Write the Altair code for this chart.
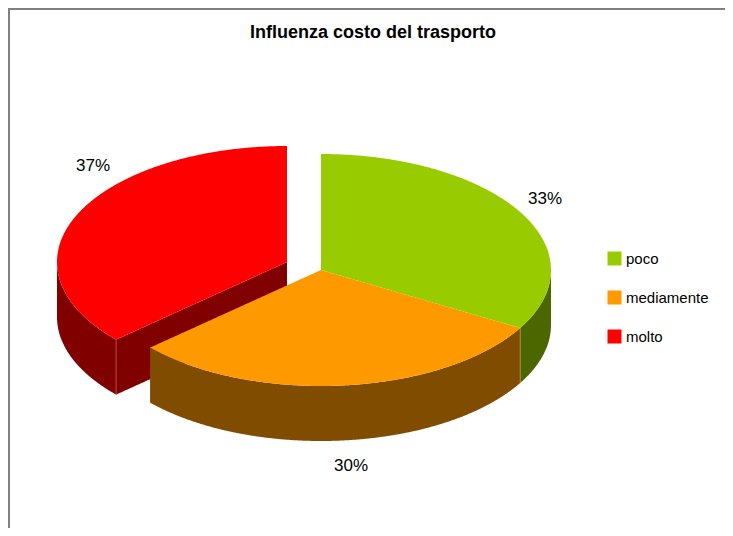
import math
import altair as alt
import pandas as pd

title_text = "Influenza costo del trasporto"
categories = ["poco", "mediamente", "molto"]
counts = [10, 9, 11]
top_colors = ["#99CC00", "#FF9900", "#FF0000"]
side_colors = ["#4C6600", "#804C00", "#800000"]
pct_labels = ["33%", "30%", "37%"]

FONT = "Liberation Sans"
RX, RY, DEPTH = 230, 116, 55
CENTERS = {"poco": (321, 270), "mediamente": (321, 270), "molto": (287, 262)}
LABEL_POS = {"poco": (545, 199), "mediamente": (351, 466), "molto": (93, 166)}

total = sum(counts)
ang = [0.0]
for c in counts:
    ang.append(ang[-1] + 360.0 * c / total)


def arc(cx, cy, a0, a1, dy=0):
    n = max(int(abs(a1 - a0) * 2), 2)
    pts = []
    for i in range(n + 1):
        a = math.radians(a0 + (a1 - a0) * i / n)
        pts.append((cx + RX * math.sin(a), cy - RY * math.cos(a) + dy))
    return pts


def columns(poly):
    xs = sorted({round(p[0], 3) for p in poly} |
                set(range(math.ceil(min(p[0] for p in poly)), math.floor(max(p[0] for p in poly)) + 1)))
    rows = []
    m = len(poly)
    for x in xs:
        ys = []
        for i in range(m):
            (x0, y0), (x1, y1) = poly[i], poly[(i + 1) % m]
            lo, hi = min(x0, x1), max(x0, x1)
            if lo - 1e-3 <= x <= hi + 1e-3:
                if abs(x1 - x0) < 1e-6:
                    ys += [y0, y1]
                else:
                    ys.append(y0 + (y1 - y0) * (x - x0) / (x1 - x0))
        if ys:
            rows.append({"x": x, "y": min(ys), "y2": max(ys)})
    return pd.DataFrame(rows)


X = alt.X("x:Q", axis=None, scale=alt.Scale(domain=[8, 725], nice=False, zero=False))
Y = alt.Y("y:Q", axis=None, scale=alt.Scale(domain=[528, 8], nice=False, zero=False))
Y2 = alt.Y2("y2:Q")


def side(poly, color):
    return alt.Chart(columns(poly)).mark_area(color=color, interpolate="linear").encode(x=X, y=Y, y2=Y2)


def top(i):
    cat = categories[i]
    cx, cy = CENTERS[cat]
    poly = [(cx, cy)] + arc(cx, cy, ang[i], ang[i + 1])
    df = columns(poly).assign(cat=cat)
    return alt.Chart(df).mark_area(interpolate="linear").encode(
        x=X, y=Y, y2=Y2,
        color=alt.Color(
            "cat:N",
            scale=alt.Scale(domain=categories, range=top_colors),
            sort=categories,
            legend=alt.Legend(
                title=None, orient="none", legendX=599, legendY=243,
                symbolType="square", symbolSize=196, symbolStrokeWidth=0,
                labelFont=FONT, labelFontSize=15, labelColor="#000000",
                labelOffset=4, rowPadding=23, symbolOffset=0, padding=0,
            ),
        ),
    )


def wall_arc(i, a0, a1):
    cx, cy = CENTERS[categories[i]]
    up = arc(cx, cy, a0, a1)
    return up + [(x, y + DEPTH) for x, y in reversed(up)]


def edge(pts, color):
    df = pd.DataFrame([{"x": p[0], "y": p[1], "o": k} for k, p in enumerate(pts)])
    return alt.Chart(df).mark_line(color=color, strokeWidth=1, opacity=0.7).encode(x=X, y=Y, order="o:Q")


rcx, rcy = CENTERS["molto"]
red_corner = arc(rcx, rcy, ang[2], ang[2])[0]
red_face = [(rcx, rcy), red_corner, (red_corner[0], red_corner[1] + DEPTH), (rcx, rcy + DEPTH)]
gcx, gcy = CENTERS["poco"]
g_corner = arc(gcx, gcy, ang[1], ang[1])[0]

layers = [
    side(wall_arc(2, ang[2], 270), side_colors[2]),
    side(red_face, side_colors[2]),
    edge([red_corner, (red_corner[0], red_corner[1] + DEPTH)], "#C06060"),
    top(2),
    side(wall_arc(1, ang[1], ang[2]), side_colors[1]),
    top(1),
    side(wall_arc(0, 90, ang[1]), side_colors[0]),
    edge([g_corner, (g_corner[0], g_corner[1] + DEPTH)], "#C09050"),
    top(0),
]

labels = pd.DataFrame({
    "x": [LABEL_POS[c][0] for c in categories],
    "y": [LABEL_POS[c][1] for c in categories],
    "t": pct_labels,
})
layers.append(alt.Chart(labels).mark_text(font=FONT, fontSize=17, color="#000000", align="center", baseline="middle")
              .encode(x=X, y=Y, text="t:N"))

title_df = pd.DataFrame({"x": [373], "y": [33], "t": [title_text]})
layers.append(alt.Chart(title_df).mark_text(font=FONT, fontSize=18, fontWeight="bold", color="#000000",
                                            align="center", baseline="middle")
              .encode(x=X, y=Y, text="t:N"))

frame_v = pd.DataFrame({"x": [9, 9], "y": [9, 528], "o": [0, 1]})
frame_h = pd.DataFrame({"x": [8, 725], "y": [9, 9], "o": [0, 1]})
for fr in (frame_v, frame_h):
    layers.append(alt.Chart(fr).mark_line(color="#808080", strokeWidth=2).encode(x=X, y=Y, order="o:Q"))

chart = (
    alt.layer(*layers)
    .resolve_scale(color="shared")
    .properties(width=717, height=520, padding=0, autosize=alt.AutoSizeParams(type="none"))
    .configure_view(stroke=None)
)
chart.save("out.html", embed_options={"renderer": "svg", "actions": False})
